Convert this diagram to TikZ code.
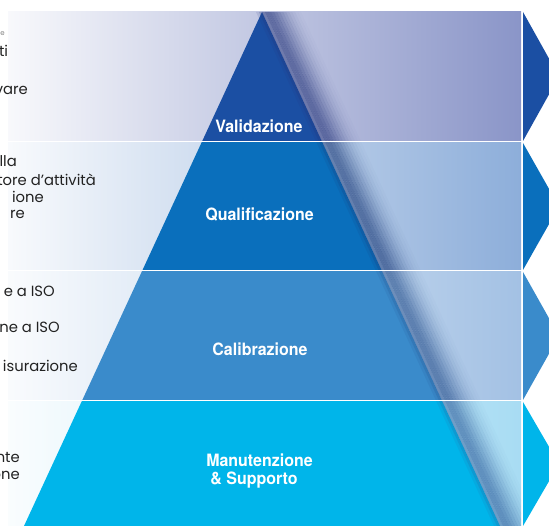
\documentclass[tikz,border=0pt]{standalone}
\usepackage{fontspec}
\newfontfamily\lblfont[FakeStretch=0.94]{TeX Gyre Heros}
\newfontfamily\txtfont{Poppins}
\usetikzlibrary{calc}
\definecolor{pyrA}{HTML}{1B4FA3}
\definecolor{bandA}{HTML}{8A95C8}
\definecolor{shdA}{HTML}{24347A}
\definecolor{pyrB}{HTML}{0A6FBC}
\definecolor{bandB}{HTML}{8DAEDA}
\definecolor{shdB}{HTML}{1A3A78}
\definecolor{pyrC}{HTML}{3A8BCB}
\definecolor{bandC}{HTML}{A3C1E4}
\definecolor{shdC}{HTML}{254F8C}
\definecolor{pyrD}{HTML}{00B5EA}
\definecolor{bandD}{HTML}{A8DCF3}
\definecolor{shdD}{HTML}{2E5E9C}
\definecolor{txtcol}{HTML}{222222}
\tikzset{
  lbl/.style={text=white, inner sep=0pt, anchor=base, font=\lblfont\bfseries\fontsize{17}{18}\selectfont},
  side/.style={text=txtcol, inner sep=0pt, anchor=base east, font=\txtfont\fontsize{14.8}{16}\selectfont},
}
\begin{document}
\begin{tikzpicture}[x=1pt,y=1pt]
\useasboundingbox (0,0) rectangle (549,526);
\clip (0,0) rectangle (549,526);
\fill[white] (0,0) rectangle (549,526);
\foreach \b/\t/\p/\c/\s in {385/514/pyrA/bandA/shdA, 256/383/pyrB/bandB/shdB, 126/254/pyrC/bandC/shdC, 0/124/pyrD/bandD/shdD}{
  \shade[left color=\c!6!white, right color=\c] (8,\b) rectangle (521,\t);
  \begin{scope}
    \clip (8,\b) rectangle (521,\t);
    \fill[\p] (262,514) -- (24,0) -- (500,0) -- cycle;
    \foreach \d/\o in {-6/0.12, -3/0.3, 0/0.5, 3/0.6, 6/0.6, 9/0.55, 12/0.48, 15/0.4, 18/0.32, 21/0.25, 24/0.18, 27/0.12, 30/0.08, 33/0.04, 36/0.02}{
      \fill[\s, fill opacity=\o] ({262+\d},514) -- ({500+\d},0) -- ({503+\d},0) -- ({265+\d},514) -- cycle;
    }
  \end{scope}
  \fill[\p] (523,\t) -- (523,\b) -- (559,{(\b+\t)/2}) -- cycle;
}
% pyramid labels
\node[lbl] (val) at (259,393) {Validazione};
\node[lbl] (qual) at (259.5,305) {Qualificazione};
\node[lbl] (cal) at (260,170) {Calibrazione};
\node[lbl] (man) at (259.5,59.3) {Manutenzione};
\node[lbl] (sup) at (254,41) {\& Supporto};
% left texts (cut off by the picture edge)
\node[side, font=\txtfont\fontsize{7}{8}\selectfont, text=gray] (t0) at (5,490) {e};
\node[side] (t1) at (8.3,469) {ti};
\node[side] (t2) at (28,431) {vare};
\node[side] (t3) at (17,359) {lla};
\node[side] (t4) at (96,340) {tore d’attività};
\node[side] (t5) at (44,323) {ione};
\node[side] (t6) at (25,307) {re};
\node[side] (t7) at (55,229) {e a ISO};
\node[side] (t8) at (60,193) {ne a ISO};
\node[side] (t9) at (78,154) {isurazione};
\node[side] (t10) at (20,63) {nte};
\node[side] (t11) at (20,46) {one};
\end{tikzpicture}
\end{document}
